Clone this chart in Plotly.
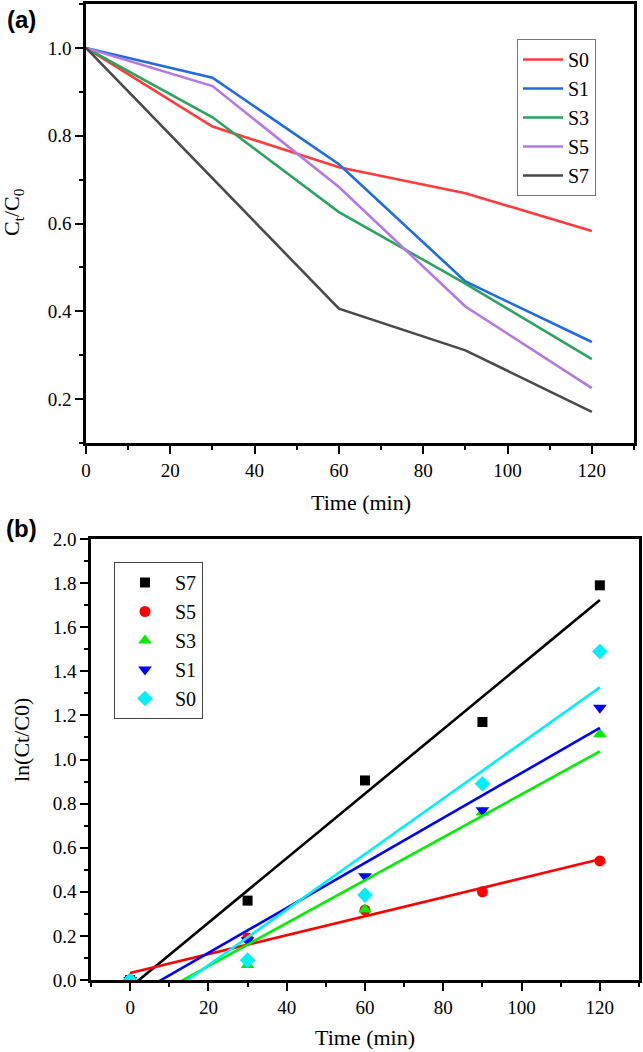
import numpy as np
import plotly.graph_objects as go

W, H = 643, 1052

# ---------------- data ----------------
time_a = [0, 30, 60, 90, 120]
s0_a = [1.0, 0.821, 0.728, 0.669, 0.583]
s1_a = [1.0, 0.932, 0.735, 0.468, 0.330]
s3_a = [1.0, 0.842, 0.626, 0.463, 0.291]
s5_a = [1.0, 0.913, 0.683, 0.411, 0.225]
s7_a = [1.0, 0.703, 0.406, 0.311, 0.171]

time_b = [0, 30, 60, 90, 120]
s7_b = [0, 0.36, 0.905, 1.17, 1.79]
s5_b = [0, 0.19, 0.317, 0.40, 0.54]
s3_b = [0, 0.068, 0.32, 0.76, 1.115]
s1_b = [0, 0.18, 0.47, 0.77, 1.235]
s0_b = [0, 0.09, 0.385, 0.89, 1.49]

labels_a = ["S0", "S1", "S3", "S5", "S7"]
labels_b = ["S7", "S5", "S3", "S1", "S0"]

SERIF = "Liberation Serif"
SANS = "Liberation Sans"


def px_x(p):
    return p / W


def px_y(p):
    return 1 - p / H


fig = go.Figure()

# ---------------- panel (a) ----------------
cols_a = ["#FF3B3B", "#1E6BE3", "#2CA35F", "#B478E6", "#4A4A4A"]
for name, ys, c in zip(labels_a, [s0_a, s1_a, s3_a, s5_a, s7_a], cols_a):
    fig.add_trace(go.Scatter(x=time_a, y=ys, mode="lines", name=name,
                             line=dict(color=c, width=2.6),
                             xaxis="x", yaxis="y", legend="legend"))

# ---------------- panel (b) ----------------
cols_b = ["#000000", "#FF0000", "#00EE00", "#0000FF", "#00F0F8"]
syms = ["square", "circle", "triangle-up", "triangle-down", "diamond"]
sizes = [10, 11, 12, 12, 12]
series_b = [s7_b, s5_b, s3_b, s1_b, s0_b]
for name, ys, c, s, sz in zip(labels_b, series_b, cols_b, syms, sizes):
    fig.add_trace(go.Scatter(x=time_b, y=ys, mode="markers", name=name,
                             marker=dict(color=c, symbol=s, size=sz),
                             xaxis="x2", yaxis="y2", legend="legend2"))
for name, ys, c in zip(labels_b, series_b, cols_b):
    k, b0 = np.polyfit(time_b, ys, 1)
    xf = [time_b[0], time_b[-1]]
    yf = [k * xf[0] + b0, k * xf[1] + b0]
    fig.add_trace(go.Scatter(x=xf, y=yf, mode="lines", showlegend=False,
                             line=dict(color=c, width=2.6),
                             xaxis="x2", yaxis="y2"))

axis_common = dict(showline=True, linecolor="black", linewidth=2.5, mirror=True,
                   ticks="outside", ticklen=8, tickwidth=2, tickcolor="black",
                   showgrid=False, zeroline=False, automargin=False,
                   tickfont=dict(family=SERIF, size=19, color="black"))

fig.update_layout(
    width=W, height=H,
    margin=dict(l=0, r=0, t=0, b=0),
    paper_bgcolor="white", plot_bgcolor="white",
    template="none",
    xaxis=dict(domain=[px_x(86), px_x(634)], anchor="y", range=[0, 130],
               tick0=0, dtick=20,
               minor=dict(dtick=10, ticks="outside", ticklen=4, tickwidth=2, tickcolor="black"),
               **axis_common),
    yaxis=dict(domain=[px_y(443), px_y(4)], anchor="x", range=[0.1, 1.1],
               tick0=0, dtick=0.2, tickformat=".1f",
               minor=dict(dtick=0.1, ticks="outside", ticklen=4, tickwidth=2, tickcolor="black"),
               **axis_common),
    xaxis2=dict(domain=[px_x(91), px_x(639)], anchor="y2", range=[-10, 130],
                tick0=0, dtick=20,
                minor=dict(dtick=10, ticks="outside", ticklen=4, tickwidth=2, tickcolor="black"),
                **axis_common),
    yaxis2=dict(domain=[px_y(980), px_y(539)], anchor="x2", range=[0, 2],
                tick0=0, dtick=0.2, tickformat=".1f",
                minor=dict(dtick=0.1, ticks="outside", ticklen=4, tickwidth=2, tickcolor="black"),
                **axis_common),
    legend=dict(x=px_x(517), y=px_y(39), xanchor="left", yanchor="top",
                bgcolor="white", bordercolor="#777777", borderwidth=1,
                font=dict(family=SERIF, size=20, color="black"),
                tracegroupgap=0, itemwidth=40),
    legend2=dict(x=px_x(114), y=px_y(562), xanchor="left", yanchor="top",
                 bgcolor="white", bordercolor="#444444", borderwidth=1,
                 font=dict(family=SERIF, size=20, color="black"),
                 tracegroupgap=0, itemwidth=50),
    showlegend=True,
)

annots = [
    dict(text="<b>(a)</b>", x=px_x(21), y=px_y(19), font=dict(family=SANS, size=24, color="black")),
    dict(text="<b>(b)</b>", x=px_x(21), y=px_y(528), font=dict(family=SANS, size=24, color="black")),
    dict(text="Time (min)", x=px_x(361), y=px_y(503), font=dict(family=SERIF, size=22, color="black")),
    dict(text="Time (min)", x=px_x(365), y=px_y(1037), font=dict(family=SERIF, size=22, color="black")),
    dict(text="C<sub>t</sub>/C<sub>0</sub>", x=px_x(13), y=px_y(212), textangle=-90,
         font=dict(family=SERIF, size=22, color="black")),
    dict(text="ln(Ct/C0)", x=px_x(21), y=px_y(740), textangle=-90,
         font=dict(family=SERIF, size=22, color="black")),
]
for a in annots:
    fig.add_annotation(xref="paper", yref="paper", showarrow=False,
                       xanchor="center", yanchor="middle", **a)

fig.write_html("out.html")
